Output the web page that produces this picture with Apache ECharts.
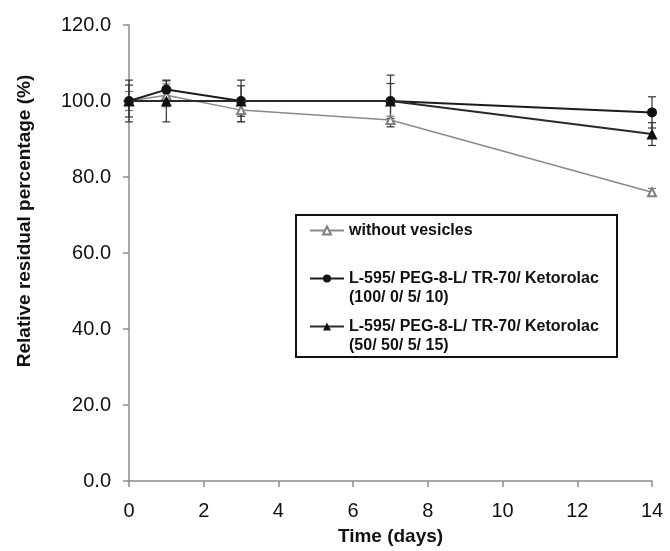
<!DOCTYPE html>
<html>
<head>
<meta charset="utf-8">
<script src="https://cdn.jsdelivr.net/npm/echarts@6/dist/echarts.min.js"></script>
<style>
  html, body { margin: 0; padding: 0; background: #fff; }
  #main { width: 670px; height: 551px; }
</style>
</head>
<body>
<div id="main"></div>
<script>
  // time points (days)
  var days = [0, 1, 3, 7, 14];
  var xTicks = [0, 2, 4, 6, 8, 10, 12, 14];
  var yTicks = [0, 20, 40, 60, 80, 100, 120];

  var nameNoVes = 'without vesicles';
  var nameA = 'L-595/ PEG-8-L/ TR-70/ Ketorolac\n(100/ 0/ 5/ 10)';
  var nameB = 'L-595/ PEG-8-L/ TR-70/ Ketorolac\n(50/ 50/ 5/ 15)';

  // relative residual percentage and its error
  var noVes = [100, 101.5, 97.6, 95, 76];
  var noVesErr = [2.5, 3, 3, 1, 1];
  var seriesA = [100, 103, 100, 100, 97];
  var seriesAErr = [5.5, 2.3, 5.5, 6.8, 4.1];
  var seriesB = [100, 100, 100, 100, 91.3];
  var seriesBErr = [4.2, 5.5, 4, 4.6, 3];

  var font = 'Liberation Sans, Arial, sans-serif';

  function pairs(vals) {
    return days.map(function (d, i) { return [d, vals[i]]; });
  }
  function errRows(vals, errs) {
    return days.map(function (d, i) { return [d, vals[i] - errs[i], vals[i] + errs[i]]; });
  }
  function errorSeries(vals, errs, color) {
    return {
      type: 'custom',
      silent: true,
      z: 1,
      data: errRows(vals, errs),
      renderItem: function (params, api) {
        var lo = api.coord([api.value(0), api.value(1)]);
        var hi = api.coord([api.value(0), api.value(2)]);
        var w = 4;
        var st = { stroke: color, lineWidth: 1.2 };
        return {
          type: 'group',
          children: [
            { type: 'line', shape: { x1: lo[0], y1: lo[1], x2: hi[0], y2: hi[1] }, style: st },
            { type: 'line', shape: { x1: lo[0] - w, y1: lo[1], x2: lo[0] + w, y2: lo[1] }, style: st },
            { type: 'line', shape: { x1: hi[0] - w, y1: hi[1], x2: hi[0] + w, y2: hi[1] }, style: st }
          ]
        };
      }
    };
  }

  // one legend per entry so the marker sits on the first text line
  function legendFor(name, top, twoLines) {
    return {
      data: [name],
      left: 309,
      top: top,
      padding: 0,
      selectedMode: false,
      itemWidth: 34,
      itemHeight: 10,
      itemGap: 0,
      textStyle: {
        fontFamily: font,
        fontSize: 16,
        fontWeight: 'bold',
        color: '#111',
        lineHeight: 19,
        rich: { t: {} },
        padding: twoLines ? [19, 0, 0, 0] : 0
      }
    };
  }

  var myChart = echarts.init(document.getElementById('main'));
  var option = {
    animation: false,
    backgroundColor: '#fff',
    grid: { left: 129, right: 18, top: 25, bottom: 69 },
    legend: [
      legendFor(nameNoVes, 221, false),
      legendFor(nameA, 250, true),
      legendFor(nameB, 298, true)
    ],
    graphic: [{
      type: 'rect',
      shape: { x: 296, y: 215, width: 321, height: 142 },
      style: { fill: 'none', stroke: '#111', lineWidth: 2 },
      z: 0
    }],
    xAxis: {
      type: 'value',
      min: xTicks[0],
      max: xTicks[xTicks.length - 1],
      interval: xTicks[1] - xTicks[0],
      name: 'Time (days)',
      nameLocation: 'middle',
      nameGap: 46,
      nameTextStyle: { fontFamily: font, fontSize: 19, fontWeight: 'bold', color: '#111' },
      axisLine: { lineStyle: { color: '#8c8c8c', width: 1.5 } },
      axisTick: { show: true, length: 6, lineStyle: { color: '#8c8c8c', width: 1.5 } },
      axisLabel: { margin: 20, fontFamily: font, fontSize: 20, color: '#111' },
      splitLine: { show: false }
    },
    yAxis: {
      type: 'value',
      min: yTicks[0],
      max: yTicks[yTicks.length - 1],
      interval: yTicks[1] - yTicks[0],
      name: 'Relative residual percentage (%)',
      nameLocation: 'middle',
      nameGap: 95,
      nameTextStyle: { fontFamily: font, fontSize: 19, fontWeight: 'bold', color: '#111', padding: [0, 0, 0, 64] },
      axisLine: { show: true, lineStyle: { color: '#8c8c8c', width: 1.5 } },
      axisTick: { show: true, length: 6, lineStyle: { color: '#8c8c8c', width: 1.5 } },
      axisLabel: {
        margin: 18, fontFamily: font, fontSize: 20, color: '#111',
        formatter: function (v) { return v.toFixed(1); }
      },
      splitLine: { show: false }
    },
    series: [
      errorSeries(noVes, noVesErr, '#777'),
      errorSeries(seriesA, seriesAErr, '#333'),
      errorSeries(seriesB, seriesBErr, '#333'),
      {
        name: nameNoVes,
        type: 'line',
        data: pairs(noVes),
        symbol: 'emptyTriangle',
        symbolSize: 8,
        color: '#808080',
        lineStyle: { color: '#8a8a8a', width: 1.5 },
        itemStyle: { color: '#808080', borderWidth: 1.2 },
        z: 3
      },
      {
        name: nameA,
        type: 'line',
        data: pairs(seriesA),
        symbol: 'circle',
        symbolSize: 10,
        color: '#111',
        lineStyle: { color: '#1c1c1c', width: 2 },
        itemStyle: { color: '#111' },
        z: 4
      },
      {
        name: nameB,
        type: 'line',
        data: pairs(seriesB),
        symbol: 'triangle',
        symbolSize: 11,
        color: '#111',
        lineStyle: { color: '#2a2a2a', width: 2 },
        itemStyle: { color: '#111' },
        z: 5
      }
    ]
  };
  myChart.setOption(option);
</script>
</body>
</html>
